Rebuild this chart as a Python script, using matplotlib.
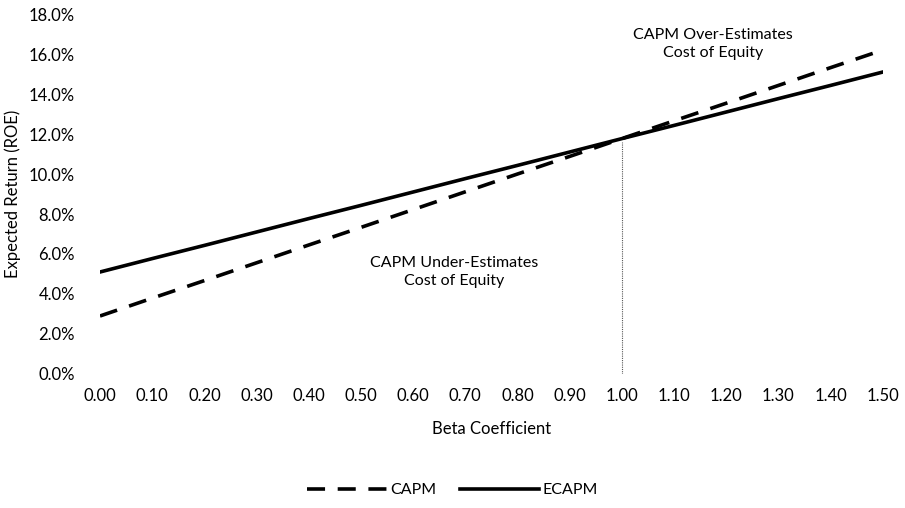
import numpy as np
import matplotlib
matplotlib.use("Agg")
import matplotlib.pyplot as plt
from matplotlib.ticker import FuncFormatter

plt.rcParams['font.family'] = ['Lato', 'DejaVu Sans']

beta = [0.0, 0.1, 0.2, 0.3, 0.4, 0.5, 0.6, 0.7, 0.8, 0.9, 1.0, 1.1, 1.2, 1.3, 1.4, 1.5]
capm = [2.9, 3.79, 4.67, 5.56, 6.45, 7.33, 8.22, 9.11, 10.0, 10.88, 11.77, 12.66, 13.54, 14.43, 15.32, 16.2]
ecapm = [5.1, 5.77, 6.43, 7.1, 7.77, 8.43, 9.1, 9.77, 10.43, 11.1, 11.77, 12.43, 13.1, 13.77, 14.43, 15.1]
guide_x = [1.0, 1.0]
guide_y = [0.0, 11.6]

fig = plt.figure(figsize=(9.05, 5.08), dpi=100)
ax = fig.add_axes([0.1105, 0.2638, 0.865, 0.7086])

ax.plot(beta, capm, color='black', lw=2.6, linestyle=(0, (5, 3.5)), label='CAPM')
ax.plot(beta, ecapm, color='black', lw=2.6, label='ECAPM')
ax.plot(guide_x, guide_y, color='#555555', lw=0.8, linestyle=(0, (1, 1)))

ax.text(0.678, 5.1, 'CAPM Under-Estimates\nCost of Equity', ha='center', va='center',
        fontsize=11.5, linespacing=1.4)
ax.text(1.174, 16.5, 'CAPM Over-Estimates\nCost of Equity', ha='center', va='center',
        fontsize=11.5, linespacing=1.4)

ax.set_xlim(0, 1.5)
ax.set_ylim(0, 18)
ax.set_xticks(np.arange(0, 1.51, 0.1))
ax.set_yticks(np.arange(0, 18.1, 2))
ax.xaxis.set_major_formatter(FuncFormatter(lambda v, p: '%.2f' % v))
ax.yaxis.set_major_formatter(FuncFormatter(lambda v, p: '%.1f%%' % v))
ax.tick_params(length=0, labelsize=12, pad=10)
ax.tick_params(axis='y', pad=18)
for s in ax.spines.values():
    s.set_visible(False)

ax.set_xlabel('Beta Coefficient', fontsize=12, labelpad=12)
ax.set_ylabel('Expected Return (ROE)', fontsize=12, labelpad=6)

# handle length chosen so three full dashes fit
fig.legend(loc='center', bbox_to_anchor=(0.5, 0.035), ncol=2, frameon=False,
           fontsize=11.5, handlelength=4.97, columnspacing=1.5, handletextpad=0.2)

fig.savefig('out.png', dpi=100)
